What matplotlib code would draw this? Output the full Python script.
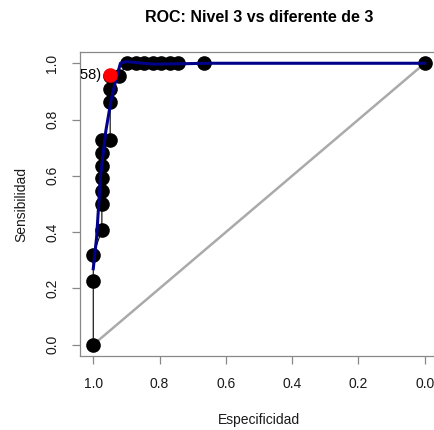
import matplotlib
matplotlib.use("Agg")
import matplotlib.pyplot as plt

plt.rcParams['font.family'] = ['Liberation Sans', 'DejaVu Sans']

# Empirical ROC curve (specificity, sensitivity) at each threshold
roc_spec = [1.000, 1.000, 1.000, 0.974, 0.974, 0.974, 0.974, 0.974, 0.974, 0.974,
            0.949, 0.949, 0.949, 0.949, 0.923, 0.897, 0.872, 0.846, 0.821, 0.795,
            0.769, 0.744, 0.667, 0.000]
roc_sens = [0.000, 0.227, 0.318, 0.409, 0.500, 0.545, 0.591, 0.636, 0.682, 0.727,
            0.727, 0.864, 0.909, 0.955, 0.955, 1.000, 1.000, 1.000, 1.000, 1.000,
            1.000, 1.000, 1.000, 1.000]

# Second (smoothed) curve
smooth_spec = [1.000, 0.990, 0.978, 0.962, 0.946, 0.932, 0.918, 0.900, 0.850,
               0.820, 0.740, 0.660, 0.000]
smooth_sens = [0.270, 0.380, 0.600, 0.760, 0.870, 0.940, 1.000, 1.006, 1.000,
               0.997, 0.998, 1.000, 1.000]

# Best threshold
best_thr = 0.5
best_spec = 0.949
best_sens = 0.958
best_label = f"{best_thr:.3f} ({best_spec:.3f}, {best_sens:.3f})"

x_ticks = [1.0, 0.8, 0.6, 0.4, 0.2, 0.0]
y_ticks = [0.0, 0.2, 0.4, 0.6, 0.8, 1.0]

W, H = 435, 430
fig = plt.figure(figsize=(W / 100, H / 100), dpi=100)
ax = fig.add_axes([80 / W, (H - 356) / H, 358 / W, 304 / H])

ax.plot([1, 0], [0, 1], color='#aaaaaa', lw=1.8, zorder=1)
ax.plot(roc_spec, roc_sens, color='black', lw=0.8, marker='o', ms=9.5,
        mfc='black', mec='black', zorder=2)
ax.plot(smooth_spec, smooth_sens, color='#00008b', lw=2.2, zorder=3)
ax.plot([best_spec], [best_sens], 'o', color='#ff0000', ms=9.5, zorder=4)
ax.text(0.976, best_sens, best_label, ha='right', va='center', fontsize=10.5,
        color='black', clip_on=True, zorder=5)

ax.set_xlim(1.04, -0.04)
ax.set_ylim(-0.04, 1.04)
ax.set_xticks(x_ticks)
ax.set_xticklabels([f"{v:.1f}" for v in x_ticks])
ax.set_yticks(y_ticks)
ax.set_yticklabels([f"{v:.1f}" for v in y_ticks], rotation=90, va='center')

for s in ax.spines.values():
    s.set_color('#888888')
    s.set_linewidth(0.9)
ax.tick_params(axis='both', length=6, width=0.9, color='#888888',
               labelsize=10, labelcolor='#1a1a1a')
ax.tick_params(axis='x', pad=9)
ax.tick_params(axis='y', pad=9)

ax.set_xlabel('Especificidad', fontsize=10, color='#1a1a1a', labelpad=16)
ax.set_ylabel('Sensibilidad', fontsize=10, color='#1a1a1a', labelpad=12)
fig.text(259 / W, 1 - 17 / H, 'ROC: Nivel 3 vs diferente de 3', ha='center',
         va='center', fontsize=11.5, fontweight='bold', color='black')

fig.savefig('out.png', dpi=100)
